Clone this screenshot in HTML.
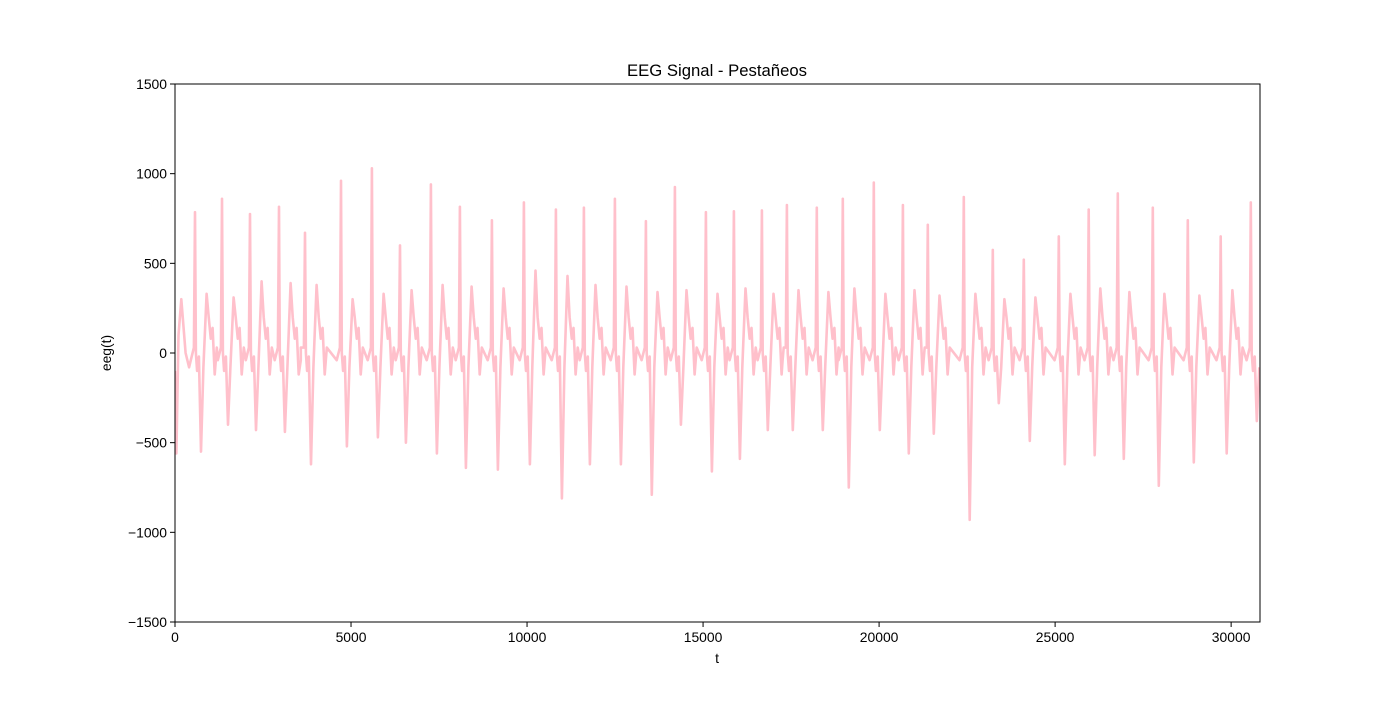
<!DOCTYPE html>
<html><head><meta charset="utf-8"><style>
body{margin:0;background:#fff;}
svg text{font-family:"Liberation Sans",sans-serif;}
</style></head><body>
<svg id="chart" width="1400" height="700">
<rect x="0" y="0" width="1400" height="700" fill="#fff"/>
<text x="717" y="76" font-size="16.7" text-anchor="middle">EEG Signal - Pestañeos</text>
<g id="plot"></g>
<g id="axes"></g>
</svg>
<script>
const spikeTimes=[568,1335,2130,2953,3692,4714,5594,6390,7270,8094,9003,9910,10820,11615,12495,13375,14200,15080,15875,16670,17380,18230,18970,19850,20675,21385,22405,23230,24110,25105,25955,26780,27775,28770,29705,30560];
const spikePeaks=[785,860,775,815,670,960,1030,600,940,815,740,840,800,810,860,735,925,785,790,795,825,810,860,950,825,715,870,575,520,650,800,890,810,740,650,840];
const troughVals=[-550,-400,-430,-440,-620,-520,-470,-500,-560,-640,-650,-620,-810,-620,-620,-790,-400,-660,-590,-430,-430,-430,-750,-430,-560,-450,-930,-280,-490,-620,-570,-590,-740,-610,-560,-380];
const humpVals=[330,310,400,390,380,300,330,350,380,370,360,460,430,380,370,340,350,330,360,330,350,340,360,330,350,320,330,300,310,330,360,340,330,320,350,340];
const xTicks=[0,5000,10000,15000,20000,25000,30000];
const yTicks=[-1500,-1000,-500,0,500,1000,1500];
const yTickLabels=["\u22121500","\u22121000","\u2212500","0","500","1000","1500"];
const X0=175,X1=1260,Y0=84,Y1=622,TMAX=30820;
const sx=t=>X0+(t/TMAX)*(X1-X0);
const sy=v=>Y1-(v+1500)/3000*(Y1-Y0);
const NS="http://www.w3.org/2000/svg";
const plot=document.getElementById('plot'),axes=document.getElementById('axes');
let pts=[[0,-100],[40,-560],[100,100],[180,300],[300,0],[400,-80]];
spikeTimes.forEach((t,i)=>{
  pts.push([t-120,-40],[t-30,30],[t,spikePeaks[i]],[t+25,0],[t+60,-100],[t+110,-20],[t+170,troughVals[i]],[t+240,-80],[t+330,humpVals[i]],[t+390,200],[t+450,80],[t+500,140],[t+560,-120],[t+620,30]);
});
pts=pts.filter(p=>p[0]<=TMAX).sort((a,b)=>a[0]-b[0]);
const cp=document.createElementNS(NS,'clipPath');cp.setAttribute('id','clip');
const cr=document.createElementNS(NS,'rect');cr.setAttribute('x',X0);cr.setAttribute('y',Y0);cr.setAttribute('width',X1-X0);cr.setAttribute('height',Y1-Y0);cp.appendChild(cr);plot.appendChild(cp);
const line=document.createElementNS(NS,'polyline');


line.setAttribute('points',pts.map(p=>sx(p[0]).toFixed(1)+','+sy(p[1]).toFixed(1)).join(' '));
line.setAttribute('fill','none');line.setAttribute('stroke','#ffc0cb');line.setAttribute('stroke-width','2.6');line.setAttribute('stroke-linejoin','round');line.setAttribute('clip-path','url(#clip)');
plot.appendChild(line);
const frame=document.createElementNS(NS,'rect');


frame.setAttribute('x',X0);frame.setAttribute('y',Y0);frame.setAttribute('width',X1-X0);frame.setAttribute('height',Y1-Y0);frame.setAttribute('fill','none');frame.setAttribute('stroke','#000');frame.setAttribute('stroke-width','1');
axes.appendChild(frame);
xTicks.forEach(t=>{
  const l=document.createElementNS(NS,'line');
  
  
  l.setAttribute('x1',sx(t));l.setAttribute('x2',sx(t));l.setAttribute('y1',Y1);l.setAttribute('y2',Y1+5);l.setAttribute('stroke','#000');axes.appendChild(l);
  const tx=document.createElementNS(NS,'text');
  
  
  tx.setAttribute('x',sx(t));tx.setAttribute('y',Y1+20);tx.setAttribute('font-size','13.9');tx.setAttribute('text-anchor','middle');tx.textContent=t;axes.appendChild(tx);
});
yTicks.forEach((v,i)=>{
  const l=document.createElementNS(NS,'line');
  
  
  l.setAttribute('x1',X0-5);l.setAttribute('x2',X0);l.setAttribute('y1',sy(v));l.setAttribute('y2',sy(v));l.setAttribute('stroke','#000');axes.appendChild(l);
  const tx=document.createElementNS(NS,'text');
  
  
  tx.setAttribute('x',X0-8);tx.setAttribute('y',sy(v)+5);tx.setAttribute('font-size','13.9');tx.setAttribute('text-anchor','end');tx.textContent=yTickLabels[i];axes.appendChild(tx);
});
const xl=document.createElementNS(NS,'text');


xl.setAttribute('x',717);xl.setAttribute('y',663);xl.setAttribute('font-size','13.9');xl.setAttribute('text-anchor','middle');xl.textContent='t';axes.appendChild(xl);
const yl=document.createElementNS(NS,'text');


yl.setAttribute('x',0);yl.setAttribute('y',0);yl.setAttribute('font-size','13.9');yl.setAttribute('text-anchor','middle');yl.setAttribute('transform','translate(111,353) rotate(-90)');yl.textContent='eeg(t)';axes.appendChild(yl);
</script>
</body></html>
